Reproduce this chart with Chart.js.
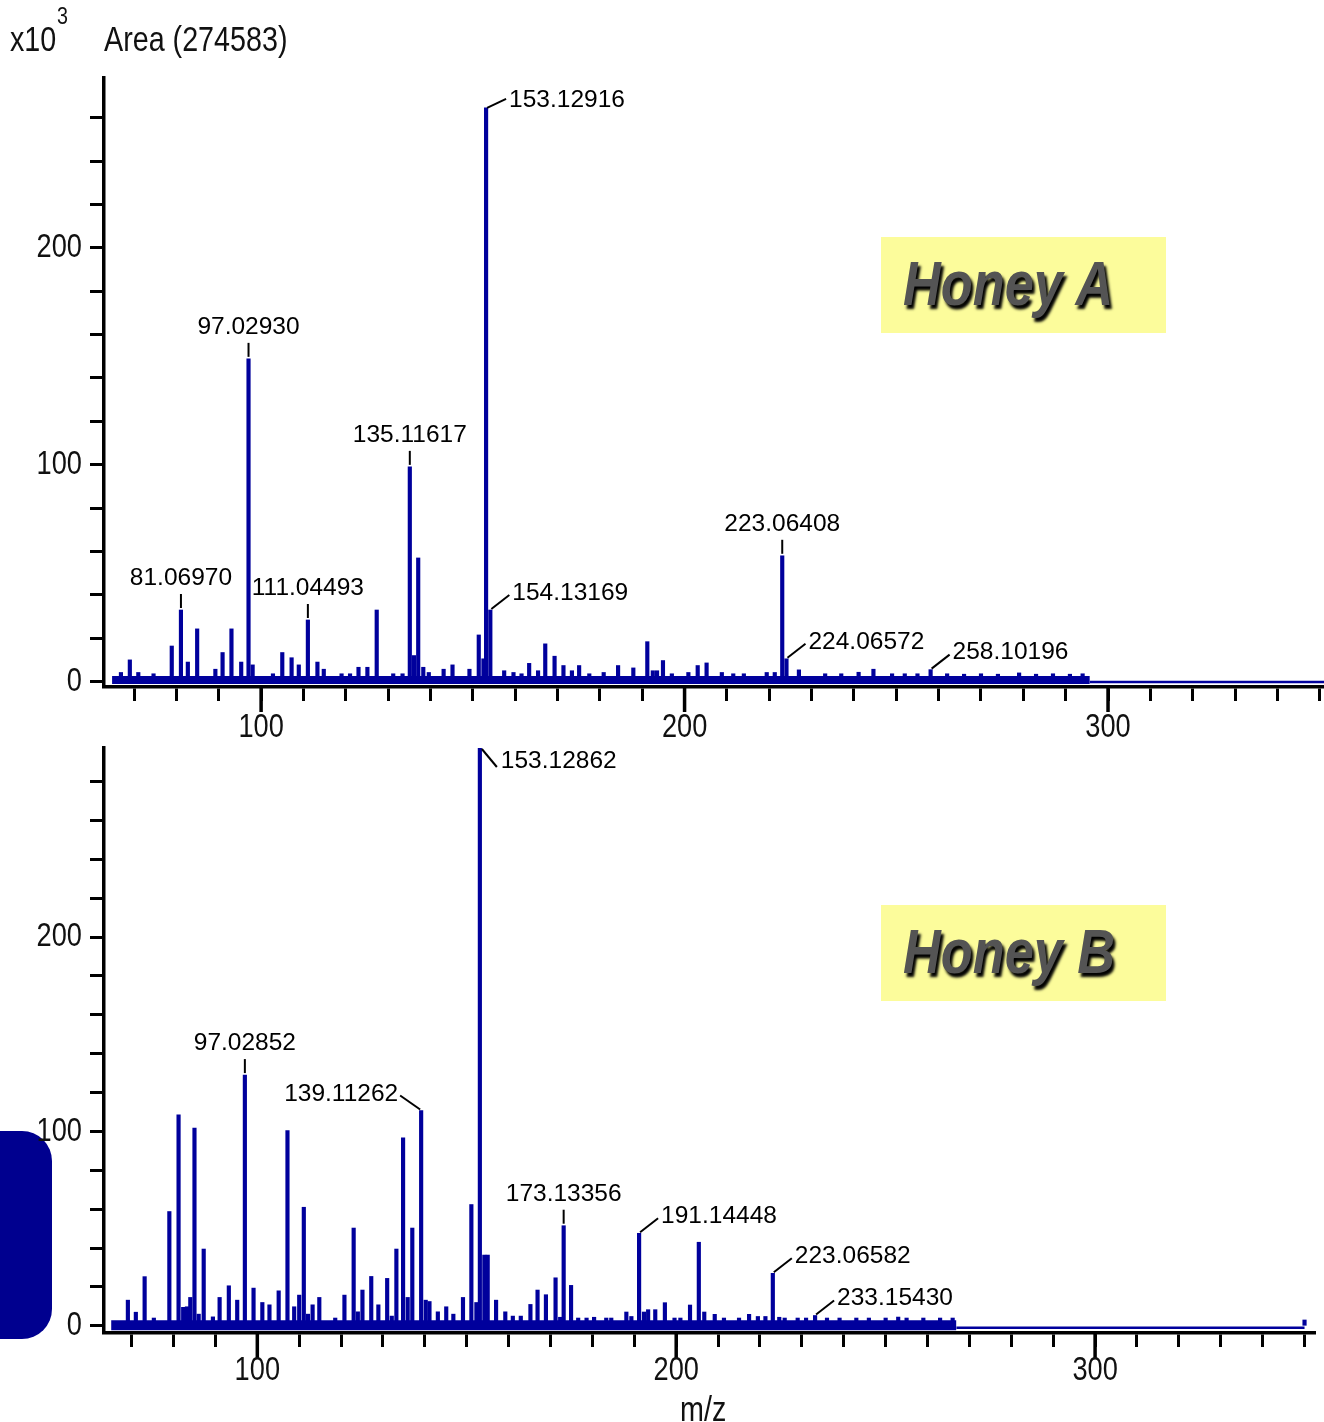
<!DOCTYPE html>
<html>
<head>
<meta charset="utf-8">
<script src="https://cdn.jsdelivr.net/npm/chart.js@4.4.1/dist/chart.umd.min.js"></script>
<style>
  body { margin: 0; background: #fff; width: 1324px; height: 1422px; overflow: hidden; position: relative;
         font-family: 'Liberation Sans', Arial, sans-serif; }
  canvas { position: absolute; left: 0; z-index: 2; }
  #specA { top: 0; }
  #specB { top: 745px; }
  .hdr { position: absolute; font-size: 35px; color: #111; line-height: 1; white-space: nowrap;
         transform: scaleX(0.82); transform-origin: 0 0; z-index: 3; }
  .tag { position: absolute; left: 881px; width: 285px; height: 96px; background: #fcfc9b; z-index: 1; }
  .tag span { position: absolute; left: 22px; top: 15px; font-style: italic; font-weight: bold; font-size: 63px;
              line-height: 1; color: #545454; text-shadow: 3px 4px 3px #000; white-space: nowrap;
              transform: scaleX(0.83); transform-origin: 0 0; }
  .blob { position: absolute; left: -40px; top: 1131px; width: 92px; height: 208px; border-radius: 30px; background: #00008f; z-index: 1; }
</style>
</head>
<body>
<div class="hdr" style="left:10px; top:21px;">x10</div>
<div class="hdr" style="left:57px; top:4px; font-size:24px;">3</div>
<div class="hdr" style="left:104px; top:21px;">Area (274583)</div>
<div class="hdr" style="left:680px; top:1391px;">m/z</div>
<div class="tag" style="top:237px;"><span>Honey A</span></div>
<div class="tag" style="top:905px;"><span>Honey B</span></div>
<div class="blob"></div>
<canvas id="specA" width="1324" height="745"></canvas>
<canvas id="specB" width="1324" height="677"></canvas>
<script>
// Honey A : centroid peaks (m/z, area x10^3)
const mzA = [
  66.9, 69.0, 71.0, 74.6, 78.9, 81.0697, 82.7, 84.9, 89.2, 90.9,
  93.0, 95.3, 97.0293, 98.0, 102.8, 105.0, 107.2, 108.9, 111.04493, 113.3,
  114.8, 119.0, 121.0, 123.0, 125.1, 127.3, 131.2, 133.4, 135.11617, 136.1,
  137.1, 138.3, 139.6, 143.1, 145.2, 149.2, 151.4, 152.5, 153.12916, 154.13169,
  157.4, 159.6, 161.5, 163.3, 165.4, 167.1, 169.3, 171.4, 173.4, 175.1,
  177.5, 180.9, 184.3, 187.9, 191.2, 192.5, 193.5, 194.9, 197.0, 200.9,
  203.1, 205.2, 208.8, 211.5, 214.0, 219.4, 221.3, 223.06408, 224.06572, 227.0,
  233.2, 237.0, 241.1, 244.6, 249.0, 252.0, 255.0, 258.10196, 262.0, 266.0,
  270.0, 274.0, 279.0, 283.0, 287.0, 291.0, 294.0
];
const intA = [
  4.2, 10, 4.2, 3.6, 16.4, 33, 9, 24.3, 5.7, 13.4,
  24.3, 9, 148.8, 7.7, 3.6, 13.4, 11, 7.7, 28.4, 9,
  5.7, 3.6, 3.6, 6.6, 6.6, 33, 3.6, 3.6, 99, 12,
  57, 6.6, 4.2, 5.7, 7.7, 5.7, 21.5, 10.5, 264.5, 33,
  5, 4.2, 3.6, 8.4, 5, 17.4, 11.7, 7.4, 5, 7.4,
  3.6, 4.2, 7.4, 6.3, 18.4, 5, 5, 9.7, 3.6, 4.2,
  7.4, 8.6, 4.2, 3.6, 3.6, 4.2, 4.2, 58, 10.5, 5.4,
  3.6, 3.6, 4.3, 5.7, 3.6, 3.6, 3.6, 5.5, 3.6, 3.4,
  3.6, 3.4, 4, 3.4, 3.6, 3.4, 3.6
];
// Honey B
const mzB = [
  69.1, 71.0, 73.1, 75.3, 79.0, 81.2, 82.3, 83.2, 84.0, 85.0,
  86.0, 87.2, 89.4, 91.0, 93.2, 95.2, 97.02852, 99.1, 101.2, 102.9,
  105.1, 107.2, 108.8, 110.0, 111.1, 112.1, 113.2, 114.8, 118.6, 120.8,
  123.0, 124.0, 125.1, 127.2, 128.9, 131.0, 132.1, 133.2, 134.8, 135.9,
  137.0, 139.11262, 140.2, 141.1, 143.1, 145.1, 146.8, 149.1, 151.1, 152.3,
  153.12862, 154.2, 155.0, 157.0, 159.2, 161.0, 162.9, 165.2, 166.9, 168.9,
  171.2, 172.3, 173.13356, 174.9, 176.6, 178.6, 180.4, 183.3, 184.5, 188.1,
  189.3, 191.14448, 192.3, 193.3, 195.0, 197.3, 199.6, 201.0, 203.3, 205.4,
  206.7, 209.2, 211.4, 215.0, 217.4, 219.5, 221.3, 223.06582, 224.6, 225.9,
  229.0, 231.0, 233.1543, 236.0, 239.0, 243.0, 246.0, 250.0, 253.0, 255.0,
  259.0, 263.0, 266.0, 350.0
];
const intB = [
  13.2, 7, 25.3, 4, 58.8, 108.6, 9.5, 9.8, 14.6, 101.7,
  6, 39.5, 4.6, 14.6, 20.6, 13.2, 129, 19.4, 12, 10.8,
  18, 100.5, 9.8, 15.8, 61, 6, 10.8, 14.6, 4, 15.8,
  50.3, 7.2, 18.4, 25.4, 10.8, 24.4, 5, 39.5, 96.7, 14.6,
  50.3, 110.8, 13.2, 12.5, 7.2, 9.8, 6, 14.6, 62.4, 12,
  300, 36.4, 36.4, 13.2, 7.2, 5, 5, 11, 18.4, 16,
  24.7, 4.4, 51.5, 20.8, 4, 4, 4.4, 4, 4, 7.1,
  4.8, 47.6, 7.1, 8.3, 8.3, 11.9, 4, 4, 10.7, 43,
  7.1, 5.9, 4, 4, 5.9, 4.8, 4.8, 27, 4.4, 4,
  4, 4, 5.3, 4, 4, 4, 4, 4, 4.5, 4,
  4, 4, 4, 3
];

// noise floor band and flat tail after the scan range
const bandA = [64.8, 295.7], bandLevelA = [-1.1, 2.6];
const tailA = [295.7, 351], tailLevelA = -0.2;
const bandB = [65.1, 266.9], bandLevelB = [-2.3, 2.8];
const tailB = [266.9, 350], tailLevelB = -1;

// annotated peaks
const annoA = [81.0697, 97.0293, 111.04493, 135.11617, 153.12916, 154.13169, 223.06408, 224.06572, 258.10196];
const annoStyleA = ['v', 'v', 'v', 'v', 'urs', 'ur', 'v', 'ur', 'ur'];
const annoB = [97.02852, 139.11262, 153.12862, 173.13356, 191.14448, 223.06582, 233.1543];
const annoStyleB = ['v', 'ul', 'dr', 'v', 'ur', 'ur', 'ur'];

const majorTicks = [100, 200, 300];
const yLabelled = [0, 100, 200];

const BLUE = '#00009c';
const FONT = "'Liberation Sans', Arial, sans-serif";

function peakLabels(anno, styles, mzs, ints) {
  return {
    id: 'peakLabels',
    afterDatasetsDraw(chart) {
      const { ctx, chartArea, scales: { x, y } } = chart;
      ctx.save();
      ctx.font = '24.5px ' + FONT;
      ctx.fillStyle = '#000';
      ctx.strokeStyle = '#000';
      ctx.lineWidth = 2;
      anno.forEach((mz, i) => {
        const v = ints[mzs.indexOf(mz)];
        const px = x.getPixelForValue(mz);
        const py = Math.max(y.getPixelForValue(v), chartArea.top);
        const text = mz.toFixed(5);
        const s = styles[i];
        ctx.beginPath();
        if (s === 'v') {
          ctx.moveTo(px, py - 2); ctx.lineTo(px, py - 16); ctx.stroke();
          ctx.textAlign = 'center'; ctx.textBaseline = 'alphabetic';
          ctx.fillText(text, px, py - 25);
        } else if (s === 'ur') {
          ctx.moveTo(px + 1, py - 1); ctx.lineTo(px + 19, py - 15); ctx.stroke();
          ctx.textAlign = 'left'; ctx.textBaseline = 'middle';
          ctx.fillText(text, px + 22, py - 17);
        } else if (s === 'urs') {
          ctx.moveTo(px + 1, py); ctx.lineTo(px + 20, py - 9); ctx.stroke();
          ctx.textAlign = 'left'; ctx.textBaseline = 'middle';
          ctx.fillText(text, px + 23, py - 8);
        } else if (s === 'dr') {
          ctx.moveTo(px + 2, py + 1); ctx.lineTo(px + 17, py + 19); ctx.stroke();
          ctx.textAlign = 'left'; ctx.textBaseline = 'middle';
          ctx.fillText(text, px + 21, py + 13);
        } else if (s === 'ul') {
          ctx.moveTo(px - 1, py - 1); ctx.lineTo(px - 21, py - 15); ctx.stroke();
          ctx.textAlign = 'right'; ctx.textBaseline = 'middle';
          ctx.fillText(text, px - 23, py - 16);
        }
      });
      ctx.restore();
    }
  };
}

// long ticks at 100/200/300 and narrow axis numbers
function axisDecor(labelGap) {
  return {
    id: 'axisDecor',
    afterDraw(chart) {
      const { ctx, chartArea, scales: { x, y } } = chart;
      ctx.save();
      ctx.strokeStyle = '#000';
      ctx.lineWidth = 3.5;
      ctx.fillStyle = '#111';
      ctx.font = '34px ' + FONT;
      ctx.textBaseline = 'middle';
      majorTicks.forEach(t => {
        const px = x.getPixelForValue(t);
        ctx.beginPath();
        ctx.moveTo(px, chartArea.bottom);
        ctx.lineTo(px, chartArea.bottom + 25);
        ctx.stroke();
        ctx.save();
        ctx.translate(px, chartArea.bottom + labelGap);
        ctx.scale(0.8, 1);
        ctx.textAlign = 'center';
        ctx.fillText(String(t), 0, 0);
        ctx.restore();
      });
      yLabelled.forEach(t => {
        const py = y.getPixelForValue(t);
        ctx.save();
        ctx.translate(chartArea.left - 22, py);
        ctx.scale(0.8, 1);
        ctx.textAlign = 'right';
        ctx.fillText(String(t), 0, 0);
        ctx.restore();
      });
      ctx.restore();
    }
  };
}

function makeSpectrum(id, cfg) {
  const peaks = cfg.mz.map((m, i) => ({ x: m, y: cfg.int[i] }));
  return new Chart(document.getElementById(id), {
    type: 'bar',
    data: {
      datasets: [
        {
          type: 'line',
          data: [{ x: cfg.band[0], y: cfg.bandLevel[1] }, { x: cfg.band[1], y: cfg.bandLevel[1] }],
          borderWidth: 0,
          pointRadius: 0,
          backgroundColor: BLUE,
          fill: { value: cfg.bandLevel[0] }
        },
        {
          type: 'line',
          data: [{ x: cfg.tail[0], y: cfg.tailLevel }, { x: cfg.tail[1], y: cfg.tailLevel }],
          borderColor: BLUE,
          borderWidth: 2.5,
          pointRadius: 0,
          fill: false
        },
        {
          data: peaks,
          backgroundColor: BLUE,
          borderWidth: 0,
          barThickness: 3.5,
          grouped: false
        }
      ]
    },
    options: {
      responsive: false,
      animation: false,
      layout: { padding: cfg.padding },
      plugins: { legend: { display: false }, tooltip: { enabled: false } },
      scales: {
        x: {
          type: 'linear',
          offset: false,
          min: cfg.xRange[0],
          max: cfg.xRange[1],
          afterFit: s => { s.height = cfg.xHeight; },
          border: { display: true, color: '#000', width: 3.5 },
          grid: { offset: false, drawOnChartArea: false, drawTicks: true, tickLength: 14, tickWidth: 3, tickColor: '#000' },
          ticks: { stepSize: 10, includeBounds: false, autoSkip: false, maxRotation: 0, padding: 0, display: false }
        },
        y: {
          min: cfg.yRange[0],
          max: cfg.yRange[1],
          afterFit: s => { s.width = 104; },
          border: { display: true, color: '#000', width: 3.5 },
          grid: { drawOnChartArea: false, drawTicks: true, tickLength: 14, tickWidth: 3, tickColor: '#000' },
          ticks: { stepSize: 20, includeBounds: false, autoSkip: false, padding: 0, display: false }
        }
      }
    },
    plugins: [peakLabels(cfg.anno, cfg.annoStyle, cfg.mz, cfg.int), axisDecor(cfg.labelGap)]
  });
}

makeSpectrum('specA', {
  mz: mzA, int: intA, band: bandA, bandLevel: bandLevelA, tail: tailA, tailLevel: tailLevelA,
  anno: annoA, annoStyle: annoStyleA,
  xRange: [62.9, 351], yRange: [-2.5, 278.3],
  padding: { top: 78, right: 0, bottom: 0, left: 0 },
  xHeight: 58, labelGap: 41
});

makeSpectrum('specB', {
  mz: mzB, int: intB, band: bandB, bandLevel: bandLevelB, tail: tailB, tailLevel: tailLevelB,
  anno: annoB, annoStyle: annoStyleB,
  xRange: [63.4, 352.5], yRange: [-3.7, 297.3],
  padding: { top: 3, right: 9, bottom: 0, left: 0 },
  xHeight: 89, labelGap: 38
});
</script>
</body>
</html>
